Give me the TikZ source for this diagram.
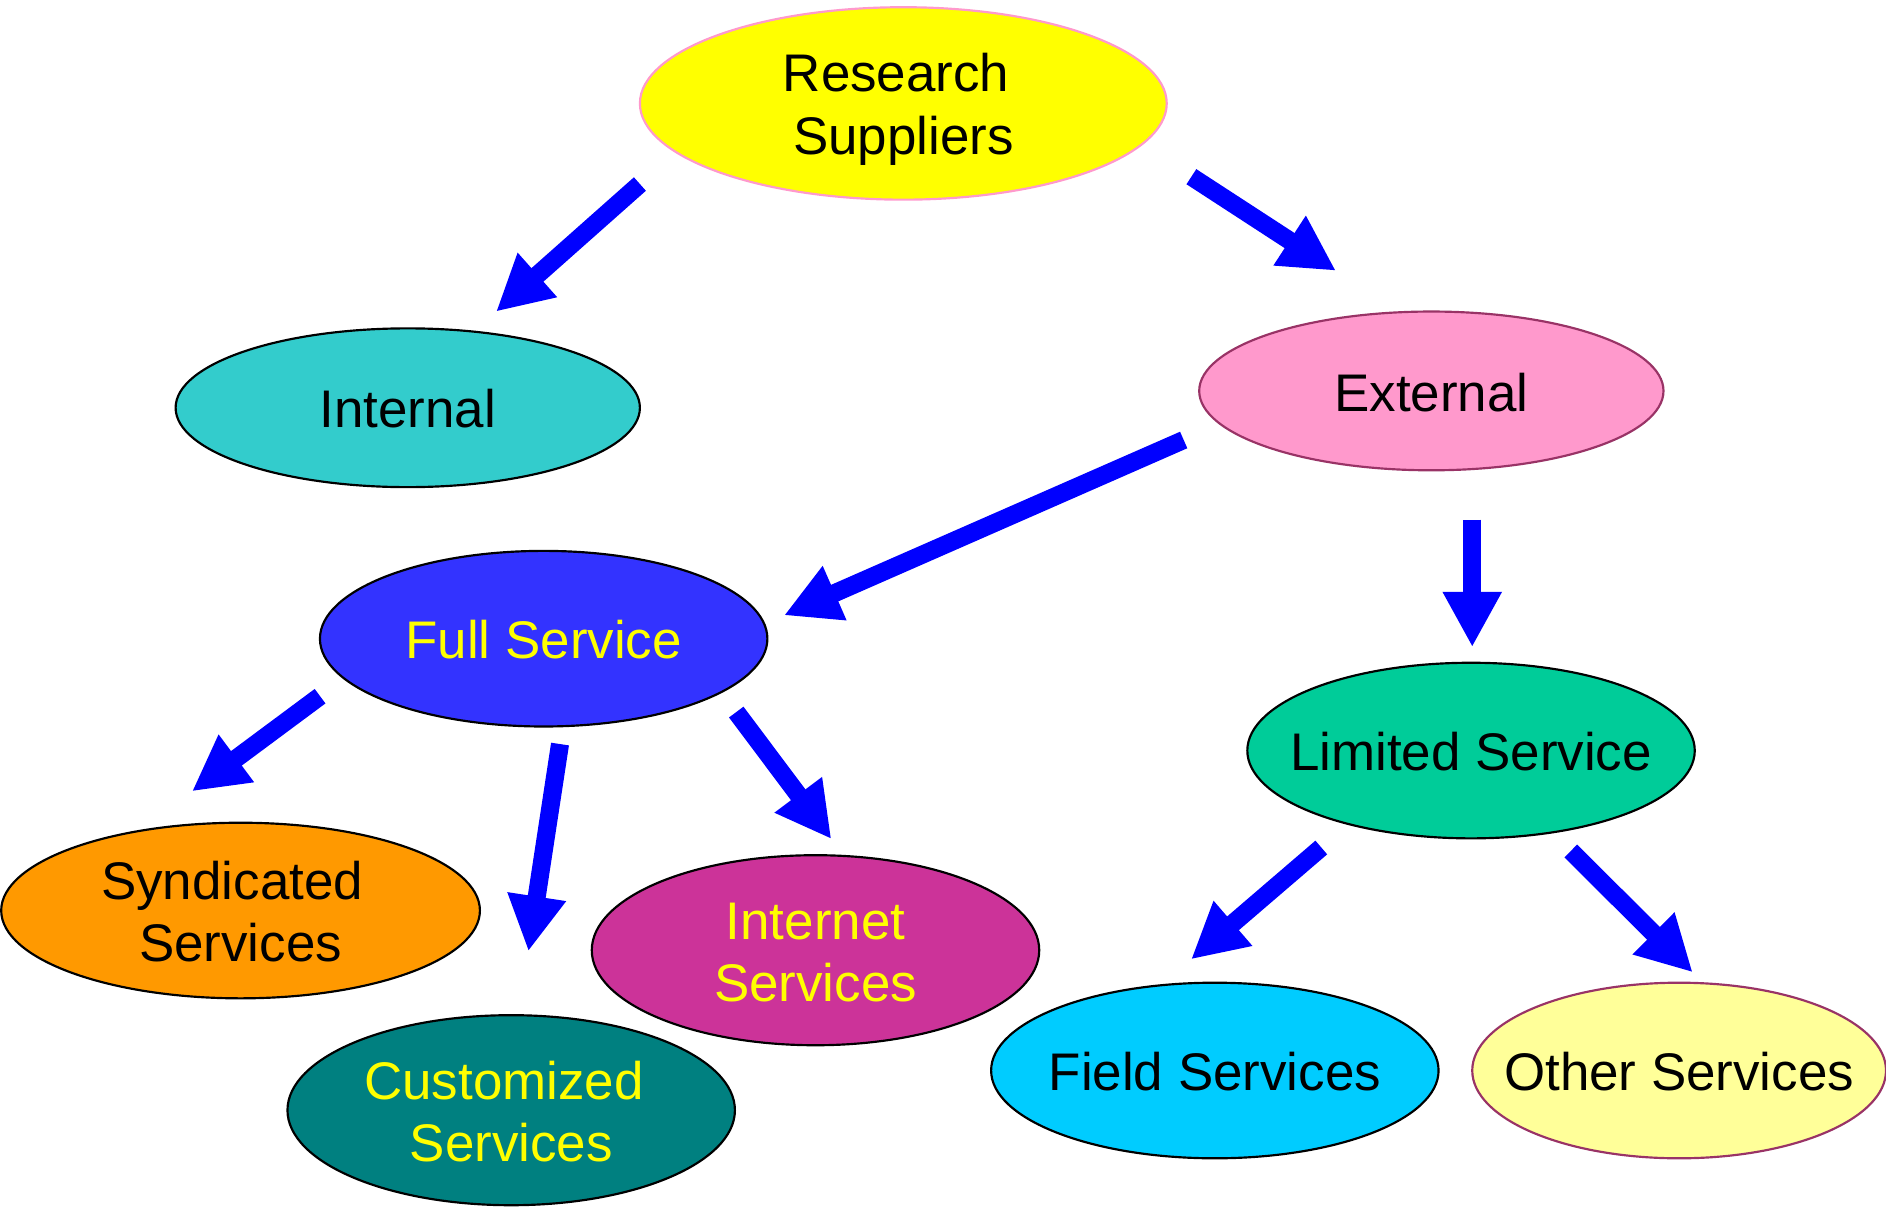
\documentclass[tikz,border=0pt]{standalone}
\usepackage{fontspec}
\setmainfont{Liberation Sans}
\usetikzlibrary{shapes.geometric,arrows.meta}
\definecolor{arrowblue}{HTML}{0000FF}
\definecolor{rsfill}{HTML}{FFFF00}
\definecolor{rsline}{HTML}{FF99CC}
\definecolor{intfill}{HTML}{33CCCC}
\definecolor{extfill}{HTML}{FF99CC}
\definecolor{plum}{HTML}{993366}
\definecolor{fullfill}{HTML}{3333FF}
\definecolor{limfill}{HTML}{00CC99}
\definecolor{synfill}{HTML}{FF9900}
\definecolor{cusfill}{HTML}{008080}
\definecolor{netfill}{HTML}{CC3399}
\definecolor{fldfill}{HTML}{00CCFF}
\definecolor{othfill}{HTML}{FFFF99}
\definecolor{txtyellow}{HTML}{FFFF00}
\begin{document}
\begin{tikzpicture}[x=1pt,y=-1pt,
  oval/.style={ellipse, draw=black, line width=1.8pt, inner sep=0pt},
  lab/.style={font=\fontsize{44}{52}\selectfont, align=center, inner sep=0pt},
  blk/.style={draw=arrowblue, line width=15pt, -{Triangle[length=46pt,width=46pt]}}]
\useasboundingbox (0,0) rectangle (1568,1003);

% ellipses
\node[oval, draw=rsline, fill=rsfill, minimum width=438pt, minimum height=160pt] (rs) at (751,86) {};
\node[oval, fill=intfill, minimum width=386pt, minimum height=132pt] (int) at (339,339) {};
\node[oval, draw=plum, fill=extfill, minimum width=386pt, minimum height=132pt] (ext) at (1190,325) {};
\node[oval, fill=fullfill, minimum width=372pt, minimum height=146pt] (full) at (452,531) {};
\node[oval, fill=limfill, minimum width=372pt, minimum height=146pt] (lim) at (1223,624) {};
\node[oval, fill=synfill, minimum width=398pt, minimum height=146pt] (syn) at (200,757) {};
\node[oval, fill=cusfill, minimum width=372pt, minimum height=158pt] (cus) at (425,923) {};
\node[oval, fill=netfill, minimum width=372pt, minimum height=158pt] (net) at (678,790) {};
\node[oval, fill=fldfill, minimum width=372pt, minimum height=146pt] (fld) at (1010,890) {};
\node[oval, draw=plum, fill=othfill, minimum width=344pt, minimum height=146pt] (oth) at (1396,890) {};

% labels
\node[lab] (rs-t) at (745,91) {Research\\\hspace*{12pt}Suppliers};
\node[lab] (int-t) at (339,340) {Internal};
\node[lab] (ext-t) at (1190,326) {External};
\node[lab, text=txtyellow] (full-t) at (452,532) {Full Service};
\node[lab] (lim-t) at (1223,625) {Limited Service};
\node[lab] (syn-t) at (193,758) {Syndicated\\\hspace*{14pt}Services};
\node[lab, text=txtyellow] (cus-t) at (419,924) {Customized\\\hspace*{12pt}Services};
\node[lab, text=txtyellow] (net-t) at (678,792) {Internet\\Services};
\node[lab] (fld-t) at (1010,891) {Field Services};
\node[lab] (oth-t) at (1396,891) {Other Services};

% arrow end points
\coordinate (a1s) at (532,153);   \coordinate (a1e) at (412.4,259.1);
\coordinate (a2s) at (990.5,146.9); \coordinate (a2e) at (1110.7,225.1);
\coordinate (a3s) at (984.1,365.8); \coordinate (a3e) at (651.8,511.6);
\coordinate (a4s) at (1224,432);  \coordinate (a4e) at (1224,538);
\coordinate (a5s) at (266.1,578.8); \coordinate (a5e) at (159.6,657.9);
\coordinate (a6s) at (465.6,618.6); \coordinate (a6e) at (439.3,790.9);
\coordinate (a7s) at (612.1,592); \coordinate (a7e) at (691.2,697.6);
\coordinate (a8s) at (1098.5,704.6); \coordinate (a8e) at (990.2,797.6);
\coordinate (a9s) at (1305.9,707.5); \coordinate (a9e) at (1407.3,808.4);

\draw[blk] (a1s) -- (a1e);
\draw[blk] (a2s) -- (a2e);
\draw[blk] (a3s) -- (a3e);
\draw[blk] (a4s) -- (a4e);
\draw[blk] (a5s) -- (a5e);
\draw[blk] (a6s) -- (a6e);
\draw[blk] (a7s) -- (a7e);
\draw[blk] (a8s) -- (a8e);
\draw[blk] (a9s) -- (a9e);
\end{tikzpicture}
\end{document}
